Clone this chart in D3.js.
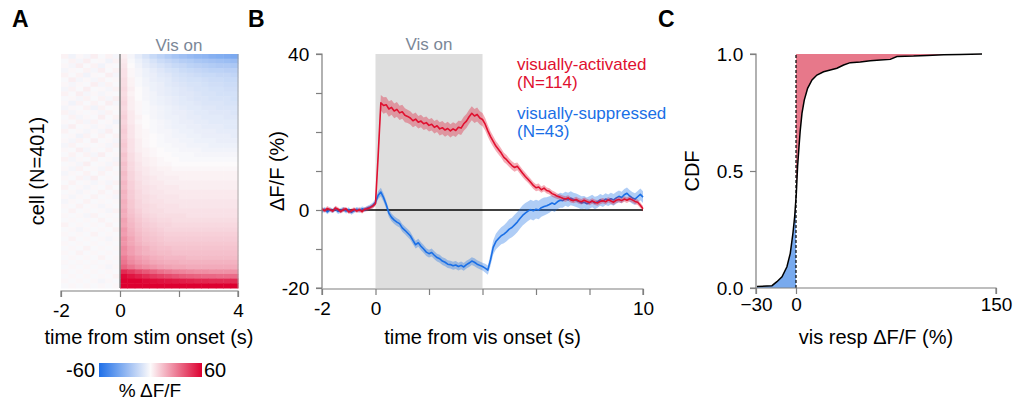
<!DOCTYPE html>
<html><head><meta charset="utf-8">
<script src="https://cdn.jsdelivr.net/npm/d3@7"></script>
<style>
html,body{margin:0;padding:0;background:#fff;}
svg text{font-family:"Liberation Sans",Arial,sans-serif;}
</style></head>
<body><svg id="c" width="1015" height="402"></svg>
<script>
// ---------- DATA ----------
// Panel A heatmap: 50 row-bands (top = most suppressed, bottom = most activated), 24 bins of 0.25 s from -2 to 4 s, values in % dF/F
const heatTimeEdges = [-2, 4];
const heatCellCount = 401;
const heatRows = [
[2,-3,1,-2,3,-1,2,-2, 3,-2,-6,-10,-14,-17,-20,-23,-25,-27,-29,-30,-32,-33,-34,-35],
[-1,2,-2,3,-1,1,-3,2, 4,-1,-4,-7,-10,-13,-15,-17,-19,-20,-22,-23,-24,-25,-26,-27],
[1,-2,3,-1,2,-3,1,-1, 5,0,-3,-6,-8,-10,-12,-14,-15,-17,-18,-19,-20,-21,-21,-22],
[-2,1,-1,2,-2,3,-1,2, 6,1,-2,-4,-6,-8,-10,-11,-13,-14,-15,-16,-17,-17,-18,-18],
[2,-1,2,-3,1,-1,3,-2, 6,1,-2,-4,-5,-7,-8,-10,-11,-12,-13,-14,-14,-15,-15,-16],
[-1,3,-2,1,-2,2,-1,1, 7,2,-1,-3,-5,-6,-7,-9,-10,-11,-11,-12,-13,-13,-14,-14],
[1,-2,1,-1,3,-2,2,-1, 7,2,-1,-3,-4,-5,-7,-8,-9,-10,-10,-11,-12,-12,-13,-13],
[-2,2,-1,3,-1,1,-2,2, 8,3,0,-2,-4,-5,-6,-7,-8,-9,-10,-10,-11,-11,-12,-12],
[2,-1,3,-2,1,-2,1,-1, 7,2,0,-2,-3,-5,-6,-7,-8,-8,-9,-10,-10,-11,-11,-11],
[-1,1,-2,2,-1,2,-2,3, 8,3,0,-2,-3,-4,-5,-6,-7,-8,-9,-9,-10,-10,-10,-11],
[1,-3,2,-1,2,-1,3,-2, 9,3,1,-1,-3,-4,-5,-6,-7,-7,-8,-9,-9,-9,-10,-10],
[-2,1,-1,2,-3,2,-1,1, 8,3,1,-1,-2,-3,-4,-5,-6,-7,-7,-8,-8,-9,-9,-9],
[2,-2,1,-1,1,-2,2,-1, 9,4,1,-1,-2,-3,-4,-5,-5,-6,-7,-7,-8,-8,-8,-9],
[-1,2,-2,1,-1,3,-1,2, 10,4,2,0,-2,-3,-4,-4,-5,-6,-6,-7,-7,-7,-8,-8],
[1,-1,2,-2,2,-1,1,-3, 9,4,1,0,-1,-2,-3,-4,-5,-5,-6,-6,-7,-7,-7,-7],
[-2,3,-1,1,-2,1,-2,1, 10,5,2,0,-1,-2,-3,-4,-4,-5,-5,-6,-6,-6,-7,-7],
[2,-1,1,-2,1,-2,3,-1, 11,5,2,1,-1,-2,-2,-3,-4,-4,-5,-5,-5,-6,-6,-6],
[-1,1,-3,2,-1,2,-1,2, 10,5,2,1,0,-1,-2,-3,-3,-4,-4,-5,-5,-5,-5,-6],
[1,-2,2,-1,3,-1,1,-2, 11,6,3,1,0,-1,-2,-2,-3,-3,-4,-4,-4,-5,-5,-5],
[-2,2,-1,1,-1,1,-2,2, 12,6,3,1,0,-1,-1,-2,-2,-3,-3,-3,-4,-4,-4,-4],
[1,-1,3,-2,1,-1,2,-1, 11,6,3,2,1,0,-1,-1,-2,-2,-2,-3,-3,-3,-3,-3],
[-1,2,-1,2,-2,3,-1,1, 13,7,4,2,1,0,0,-1,-1,-1,-2,-2,-2,-2,-2,-2],
[2,-2,1,-1,2,-1,1,-2, 12,7,4,3,2,1,0,0,-1,-1,-1,-1,-1,-1,-1,-1],
[-1,1,-2,3,-1,1,-2,2, 14,8,5,3,2,1,1,0,0,0,0,0,0,0,0,0],
[1,-2,2,-1,1,-2,2,-1, 13,8,5,4,3,2,2,1,1,1,1,1,1,1,1,1],
[-2,1,-1,2,-1,2,-1,1, 15,9,6,4,3,3,2,2,2,2,2,2,2,2,2,2],
[1,-1,2,-2,3,-1,1,-1, 14,9,6,5,4,3,3,3,2,2,2,2,2,2,2,2],
[-1,2,-1,1,-2,1,-2,2, 16,10,7,5,4,4,3,3,3,3,3,3,3,3,3,3],
[2,-1,1,-2,1,-1,2,-1, 15,10,7,6,5,4,4,4,3,3,3,3,3,3,3,3],
[-1,1,-2,1,-1,2,-1,2, 17,11,8,6,5,5,4,4,4,4,4,4,4,4,4,4],
[1,-2,1,-1,2,-1,1,-2, 16,11,8,7,6,5,5,5,4,4,4,4,4,4,4,4],
[-2,1,-1,2,-1,1,-1,1, 18,12,9,7,6,6,5,5,5,5,5,5,5,5,5,5],
[1,-1,2,-1,1,-2,1,-1, 17,12,9,8,7,6,6,6,5,5,5,5,5,5,5,5],
[-1,2,-1,1,-1,1,-2,2, 19,13,10,8,7,7,6,6,6,6,6,6,6,6,6,6],
[1,-1,1,-2,2,-1,1,-1, 18,14,11,9,8,7,7,7,7,6,6,6,6,6,6,6],
[-1,1,-1,1,-1,2,-1,1, 21,15,12,10,9,8,8,7,7,7,7,7,7,7,7,7],
[2,-1,1,-1,1,-1,2,-1, 20,16,13,11,10,9,9,8,8,8,8,8,8,8,8,8],
[-1,1,-2,1,-1,1,-1,2, 23,17,14,12,11,10,9,9,9,9,9,9,9,9,9,9],
[1,-1,1,-1,2,-1,1,-1, 22,18,15,13,12,11,10,10,10,10,10,10,10,10,10,10],
[-1,2,-1,1,-1,1,-2,1, 25,20,16,14,13,12,11,11,11,11,11,11,11,11,11,11],
[1,-1,1,-1,1,-1,1,-1, 24,20,17,15,14,13,12,12,12,12,12,12,12,12,12,12],
[-1,1,-1,2,-1,1,-1,1, 27,22,19,17,15,14,14,13,13,13,13,13,13,13,13,13],
[1,-1,2,-1,1,-1,1,-1, 26,22,19,17,16,15,15,14,14,14,14,14,14,14,14,14],
[-1,1,-1,1,-1,2,-1,1, 30,25,22,20,18,17,16,16,16,15,15,15,15,15,15,15],
[1,-1,1,-1,1,-1,1,-1, 32,27,24,22,20,19,18,18,17,17,17,17,17,17,17,17],
[-1,1,-1,1,-1,1,-2,1, 36,32,28,26,24,22,21,20,20,19,19,19,19,19,19,19],
[1,-1,1,-1,1,-1,1,-1, 50,46,42,39,36,33,31,29,28,27,26,26,25,25,25,25],
[-1,1,-1,1,-1,1,-1,2, 58,55,52,49,46,44,42,40,38,37,36,35,35,34,34,34],
[1,-1,1,-1,1,-2,1,-1, 62,61,60,58,57,56,55,54,53,52,51,51,50,50,50,50],
[-1,1,-1,1,-1,1,-1,1, 66,66,65,65,64,64,63,63,63,62,62,62,62,62,62,62]
];
const heatXTicks = [-2, 0, 2, 4];
const heatXTickLabels = [-2, 0, 4];
const colorbarStops = [-60, 0, 60];

// Panel B traces: sampled every 0.1 s from -2 to 10 s
const traceStart = -2, traceStep = 0.1;
const activated = [
0.3,-0.2,0.4,0.1,-0.3,0.5,0.2,-0.4,0.1,0.3,-0.5,-0.2,0.2,-0.3,0.1,-0.4,0.2,0.3,0.6,1.0,
1.6,14,27.5,26.8,27.0,25.9,26.3,25.4,25.8,24.9,
25.2,24.3,24.0,23.6,22.9,23.3,22.5,22.8,22.1,22.4,
21.7,22.0,21.2,21.6,20.8,21.1,20.5,20.9,20.3,20.8,
20.4,21.2,21.0,22.1,22.8,23.9,24.8,24.1,24.5,23.6,
23.2,22.0,20.3,18.8,17.6,16.4,15.5,14.6,13.5,12.9,
12.1,11.4,10.9,11.2,10.3,9.4,8.6,7.9,7.1,6.3,
5.7,5.9,5.2,5.6,5.0,4.8,4.2,3.9,3.5,3.3,
3.0,2.8,3.1,2.6,2.4,2.7,2.3,2.1,2.5,2.2,
1.9,2.3,2.0,1.8,2.2,2.4,2.1,2.6,2.3,2.0,
2.5,2.7,2.4,2.8,2.5,2.9,2.6,2.2,2.0,1.2,
0.3];
const activatedSem = [
0.5,0.5,0.6,0.5,0.5,0.6,0.5,0.5,0.6,0.5,0.5,0.6,0.5,0.5,0.6,0.5,0.5,0.6,0.5,0.6,
0.6,1.2,2.0,2.1,2.0,2.0,1.9,1.9,1.9,1.8,
1.8,1.8,1.7,1.7,1.7,1.7,1.6,1.6,1.6,1.6,
1.6,1.6,1.6,1.6,1.7,1.7,1.7,1.7,1.7,1.7,
1.7,1.7,1.8,1.8,1.8,1.8,1.8,1.8,1.8,1.7,
1.7,1.6,1.5,1.4,1.4,1.3,1.3,1.2,1.2,1.2,
1.1,1.1,1.1,1.0,1.0,1.0,1.0,0.9,0.9,0.9,
0.9,0.9,0.8,0.8,0.8,0.8,0.8,0.8,0.7,0.7,
0.7,0.7,0.7,0.7,0.7,0.7,0.7,0.7,0.7,0.7,
0.7,0.7,0.7,0.7,0.7,0.7,0.7,0.7,0.7,0.7,
0.7,0.7,0.7,0.7,0.7,0.7,0.7,0.7,0.7,0.7,
0.7];
const suppressed = [
-0.3,0.2,-0.5,0.1,-0.2,0.3,-0.4,-0.1,0.2,-0.3,0.1,-0.6,-0.2,0.2,-0.1,0.3,0.1,0.5,0.8,1.2,
2.0,3.8,4.6,3.2,1.4,-0.8,-1.9,-2.6,-3.1,-3.5,
-4.6,-5.2,-5.9,-6.6,-7.8,-8.9,-8.4,-9.3,-10.0,-10.8,
-11.2,-10.9,-11.6,-12.2,-12.5,-13.1,-13.4,-13.9,-14.0,-14.3,
-14.1,-14.5,-14.2,-14.6,-14.0,-13.6,-13.1,-13.4,-13.9,-14.2,
-14.5,-14.9,-15.4,-12.8,-9.6,-8.1,-7.3,-6.6,-6.2,-5.6,
-4.9,-4.5,-3.8,-3.1,-2.2,-1.4,-0.8,-0.3,0.1,-0.2,
0.2,0.0,0.6,0.9,1.1,1.4,1.8,1.5,2.1,2.5,
2.4,2.9,2.6,3.0,2.7,2.5,2.2,1.8,2.0,1.6,
1.9,2.3,1.8,2.1,2.6,2.3,2.8,2.5,2.9,2.6,
3.1,3.5,3.2,3.9,4.3,3.6,3.1,2.8,3.4,4.0,
3.3];
const suppressedSem = [
0.6,0.6,0.6,0.6,0.6,0.6,0.6,0.6,0.6,0.6,0.6,0.6,0.6,0.6,0.6,0.6,0.6,0.6,0.6,0.7,
0.8,1.0,1.1,1.1,1.0,1.0,1.0,1.0,1.0,1.0,
1.0,1.0,1.0,1.0,1.0,1.0,1.0,1.0,1.0,1.0,
1.0,1.0,1.0,1.0,1.0,1.0,1.0,1.0,1.0,1.0,
1.0,1.0,1.0,1.0,1.0,1.0,1.0,1.0,1.0,1.0,
1.0,1.1,1.2,1.5,1.8,2.0,2.1,2.2,2.3,2.4,
2.5,2.5,2.6,2.6,2.6,2.6,2.6,2.5,2.5,2.5,
2.4,2.4,2.3,2.3,2.2,2.1,2.0,2.0,1.9,1.9,
1.8,1.8,1.8,1.8,1.7,1.7,1.7,1.7,1.6,1.6,
1.6,1.6,1.6,1.5,1.5,1.5,1.5,1.5,1.5,1.5,
1.5,1.5,1.5,1.5,1.5,1.5,1.5,1.5,1.5,1.5,
1.5];
const visWindow = [0, 4];
const bXTicks = [-2, 0, 2, 4, 6, 8, 10];
const bXTickLabels = [-2, 0, 10];
const bYTicks = [-20, -10, 0, 10, 20, 30, 40];
const bYTickLabels = [-20, 0, 40];
const legendLabels = ["visually-activated", "(N=114)", "visually-suppressed", "(N=43)"];

// Panel C: empirical CDF of visual response (% dF/F)
const cdfX = [-29.3,-18,-14.3,-10.5,-6.8,-4.3,-2.3,-1.0,0.25,1.2,2.2,3.2,4.5,6.2,8.7,12,15.7,20.7,25.7,30.7,35.7,40.7,48.2,55.7,63.2,70.7,75.7,88.2,98.2,110.7,123,139.5];
const cdfY = [0.006,0.01,0.027,0.048,0.091,0.148,0.234,0.305,0.405,0.52,0.60,0.675,0.747,0.803,0.853,0.889,0.910,0.924,0.932,0.939,0.953,0.963,0.966,0.971,0.974,0.977,0.989,0.991,0.994,0.997,0.998,1.0];
const cXTicks = [-30, 0, 150];
const cYTicks = [0, 0.5, 1.0];

// ---------- STYLE ----------
const RED = "#e0102f", BLUE = "#1a6fe6", AXIS = "#7f7f7f", VISCOL = "#7b8797";
const svg = d3.select("#c");

function panelLabel(t, x) {
  svg.append("text").attr("x", x).attr("y", 27).attr("font-size", 23).attr("font-weight", "bold").text(t);
}

// ---------- PANEL A ----------
const ax = d3.scaleLinear().domain(heatTimeEdges).range([61, 238]);
const ay = d3.scaleBand().domain(d3.range(heatRows.length)).range([54, 288]);
const nBins = heatRows[0].length;
const binW = (heatTimeEdges[1] - heatTimeEdges[0]) / nBins;
const heatColor = d3.scaleLinear().domain(colorbarStops).range(["#1f6fe8", "#fcfafb", "#dd0030"]).clamp(true);
const gA = svg.append("g");
heatRows.forEach((row, i) => {
  gA.selectAll(null).data(row).enter().append("rect")
    .attr("x", (d, j) => ax(heatTimeEdges[0] + j * binW))
    .attr("y", ay(i))
    .attr("width", ax(heatTimeEdges[0] + binW) - ax(heatTimeEdges[0]) + 0.5)
    .attr("height", ay.bandwidth() + 0.5)
    .attr("fill", d => heatColor(d));
});
gA.append("line").attr("x1", ax(0)).attr("x2", ax(0)).attr("y1", 54).attr("y2", 288).attr("stroke", "#858585").attr("stroke-width", 1.5);
gA.append("line").attr("x1", ax(4)).attr("x2", ax(4)).attr("y1", 54).attr("y2", 288).attr("stroke", "#9a9a9a").attr("stroke-width", 0.8);
const axA = d3.axisBottom(ax).tickValues(heatXTicks).tickSize(6).tickFormat(d => heatXTickLabels.includes(d) ? d : "");
const gAx = svg.append("g").attr("transform", "translate(0,291)").call(axA);
gAx.select(".domain").attr("stroke", AXIS).attr("stroke-width", 1.2).attr("d", `M${ax(-2)},6V0H${ax(4)}V6`);
gAx.selectAll(".tick line").attr("stroke", AXIS).attr("stroke-width", 1.2);
gAx.selectAll(".tick text").attr("font-size", 19).attr("fill", "#000").attr("dy", "0.9em").attr("font-family", "Liberation Sans, Arial");
svg.append("text").attr("x", 149).attr("y", 344).attr("text-anchor", "middle").attr("font-size", 20).text("time from stim onset (s)");
svg.append("text").attr("transform", "translate(44,171) rotate(-90)").attr("text-anchor", "middle").attr("font-size", 20).text("cell (N=401)");
svg.append("text").attr("x", ax(2)).attr("y", 51).attr("text-anchor", "middle").attr("font-size", 17).attr("fill", VISCOL).text("Vis on");

// colorbar
const defs = svg.append("defs");
const grad = defs.append("linearGradient").attr("id", "cb").attr("x1", "0%").attr("x2", "100%");
d3.range(0, 1.0001, 0.1).forEach(f => {
  grad.append("stop").attr("offset", (f * 100) + "%").attr("stop-color", heatColor(colorbarStops[0] + f * (colorbarStops[2] - colorbarStops[0])));
});
svg.append("rect").attr("x", 99).attr("y", 363).attr("width", 103).attr("height", 14).attr("fill", "url(#cb)");
svg.append("text").attr("x", 95).attr("y", 377).attr("text-anchor", "end").attr("font-size", 20).text(colorbarStops[0]);
svg.append("text").attr("x", 204).attr("y", 377).attr("font-size", 20).text(colorbarStops[2]);
svg.append("text").attr("x", 150).attr("y", 397).attr("text-anchor", "middle").attr("font-size", 19).text("% \u0394F/F");
panelLabel("A", 12);

// ---------- PANEL B ----------
const bx = d3.scaleLinear().domain([-2, 10]).range([322, 643]);
const by = d3.scaleLinear().domain([-20, 40]).range([288, 54]);
const gB = svg.append("g");
gB.append("rect").attr("x", bx(visWindow[0])).attr("y", by(40)).attr("width", bx(visWindow[1]) - bx(visWindow[0])).attr("height", by(-20) - by(40)).attr("fill", "#dedede");
gB.append("text").attr("x", bx(2)).attr("y", 50).attr("text-anchor", "middle").attr("font-size", 17).attr("fill", VISCOL).text("Vis on");
const tOf = i => traceStart + i * traceStep;
function drawTrace(vals, sem, col, bandCol) {
  const area = d3.area().x((d, i) => bx(tOf(i))).y0((d, i) => by(d - sem[i])).y1((d, i) => by(d + sem[i]));
  gB.append("path").datum(vals).attr("d", area).attr("fill", bandCol);
  const line = d3.line().x((d, i) => bx(tOf(i))).y(d => by(d));
  gB.append("path").datum(vals).attr("d", line).attr("fill", "none").attr("stroke", col).attr("stroke-width", 1.6).attr("stroke-linejoin", "round");
}
gB.append("line").attr("x1", bx(-2)).attr("x2", bx(10)).attr("y1", by(0)).attr("y2", by(0)).attr("stroke", "#000").attr("stroke-width", 1.5);
drawTrace(suppressed, suppressedSem, BLUE, "rgba(26,111,230,0.35)");
drawTrace(activated, activatedSem, RED, "rgba(224,16,47,0.35)");
const axBx = d3.axisBottom(bx).tickValues(bXTicks).tickSize(6).tickFormat(d => bXTickLabels.includes(d) ? d : "");
const gBx = svg.append("g").attr("transform", "translate(0,289)").call(axBx);
const axBy = d3.axisLeft(by).tickValues(bYTicks).tickSize(6).tickFormat(d => bYTickLabels.includes(d) ? d : "");
const gBy = svg.append("g").attr("transform", "translate(322,0)").call(axBy);
[gBx, gBy].forEach(g => {
  g.select(".domain").attr("stroke", AXIS).attr("stroke-width", 1.2);
  g.selectAll(".tick line").attr("stroke", AXIS).attr("stroke-width", 1.2);
  g.selectAll(".tick text").attr("font-size", 19).attr("fill", "#000").attr("font-family", "Liberation Sans, Arial");
});
gBx.select(".domain").attr("d", `M${bx(-2)},6V0H${bx(10)}V6`);
gBy.select(".domain").attr("d", `M-6,${by(-20)}H0V${by(40)}H-6`);
gBx.selectAll(".tick text").attr("dy", "0.9em");
gBy.selectAll(".tick text").attr("dx", "-0.2em");
svg.append("text").attr("x", bx(4)).attr("y", 344).attr("text-anchor", "middle").attr("font-size", 20).text("time from vis onset (s)");
svg.append("text").attr("transform", "translate(284,171) rotate(-90)").attr("text-anchor", "middle").attr("font-size", 20).text("\u0394F/F (%)");
const legY = [70, 88, 119, 137];
const legC = [RED, RED, BLUE, BLUE];
legendLabels.forEach((t, i) => {
  svg.append("text").attr("x", 517).attr("y", legY[i]).attr("font-size", 17).attr("fill", legC[i]).text(t);
});
panelLabel("B", 248);

// ---------- PANEL C ----------
const cx = d3.scaleLinear().domain([-30, 150]).range([756, 996]);
const cy = d3.scaleLinear().domain([0, 1]).range([288, 54]);
const cdf = cdfX.map((x, i) => ({x, y: cdfY[i]}));
const negPts = cdf.filter(d => d.x <= 0);
const posPts = cdf.filter(d => d.x >= 0);
const i0 = cdfX.findIndex(x => x >= 0);
const y0 = cdfY[i0 - 1] + (cdfY[i0] - cdfY[i0 - 1]) * (0 - cdfX[i0 - 1]) / (cdfX[i0] - cdfX[i0 - 1]);
const gC = svg.append("g");
gC.append("path").datum([...negPts, {x: 0, y: y0}])
  .attr("d", d3.area().x(d => cx(d.x)).y0(cy(0)).y1(d => cy(d.y))).attr("fill", "#78aaee");
gC.append("path").datum([{x: 0, y: y0}, ...posPts])
  .attr("d", d3.area().x(d => cx(d.x)).y0(cy(1)).y1(d => cy(d.y))).attr("fill", "#e7788a");
gC.append("line").attr("x1", cx(0)).attr("x2", cx(0)).attr("y1", cy(0)).attr("y2", cy(1)).attr("stroke", "#111").attr("stroke-width", 1.3).attr("stroke-dasharray", "3,2");
gC.append("path").datum(cdf).attr("d", d3.line().x(d => cx(d.x)).y(d => cy(d.y))).attr("fill", "none").attr("stroke", "#000").attr("stroke-width", 1.5);
const axCx = d3.axisBottom(cx).tickValues(cXTicks).tickSize(6).tickFormat(d => d < 0 ? "\u2212" + Math.abs(d) : d);
const gCx = svg.append("g").attr("transform", "translate(0,288)").call(axCx);
const axCy = d3.axisLeft(cy).tickValues(cYTicks).tickSize(6).tickFormat(d3.format(".1f"));
const gCy = svg.append("g").attr("transform", "translate(756,0)").call(axCy);
[gCx, gCy].forEach(g => {
  g.select(".domain").attr("stroke", AXIS).attr("stroke-width", 1.2);
  g.selectAll(".tick line").attr("stroke", AXIS).attr("stroke-width", 1.2);
  g.selectAll(".tick text").attr("font-size", 19).attr("fill", "#000").attr("font-family", "Liberation Sans, Arial");
});
gCx.select(".domain").attr("d", `M${cx(-30)},6V0H${cx(150)}V6`);
gCy.select(".domain").attr("d", `M-6,${cy(0)}H0V${cy(1)}H-6`);
gCx.selectAll(".tick text").attr("dy", "0.75em");
gCy.selectAll(".tick text").attr("dx", "-0.2em");
svg.append("text").attr("x", 876).attr("y", 344).attr("text-anchor", "middle").attr("font-size", 20).text("vis resp \u0394F/F (%)");
svg.append("text").attr("transform", "translate(699,171) rotate(-90)").attr("text-anchor", "middle").attr("font-size", 20).text("CDF");
panelLabel("C", 658);
</script></body></html>
